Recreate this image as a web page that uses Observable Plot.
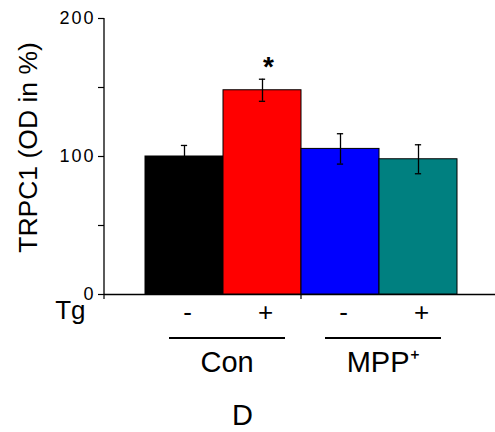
<!DOCTYPE html>
<html><head><meta charset="utf-8">
<script src="https://cdn.jsdelivr.net/npm/d3@7"></script>
<script src="https://cdn.jsdelivr.net/npm/@observablehq/plot@0.6"></script>
<style>
html,body{margin:0;padding:0;background:#fff}
svg{font-family:"Liberation Sans",Arial,sans-serif}
</style>
</head><body><div id="chart"></div>
<script>
// ---- data ----
const categories = ["Con -", "Con +", "MPP -", "MPP +"];
const tgLabels   = ["-", "+", "-", "+"];
const groupOf    = ["Con", "Con", "MPP⁺", "MPP⁺"];
const groups     = ["Con", "MPP⁺"];
const means      = [100, 148, 105.5, 98];
const errors     = [8, 8, 11, 10.5];
const colors     = ["#000000", "#ff0000", "#0000ff", "#008080"];
const yTicks     = [0, 50, 100, 150, 200];
const yTickLabels= ["0", "", "100", "", "200"];
const significant= ["Con +"];
const yTitle     = "TRPC1 (OD in %)";
const xTitle     = "Tg";
const panelLabel = "D";

const data = categories.map((c, i) => ({cat: c, tg: tgLabels[i], group: groupOf[i], mean: means[i], err: errors[i]}));
const groupData = groups.map(g => ({group: g, cats: categories.filter((c, i) => groupOf[i] === g)}));

const W = 495, H = 432;
const xRange = [143, 458];
const bw = (xRange[1] - xRange[0]) / categories.length;

// custom axis lines, group ticks and group underlines drawn through the plot's scales
function decorations(index, scales, values, dims) {
  const {x, y} = scales;
  const g = d3.create("svg:g").attr("stroke", "#000").attr("fill", "none");
  const y0 = y(yTicks[0]), yTop = y(yTicks[yTicks.length - 1]);
  // y axis line
  g.append("line").attr("x1", dims.marginLeft).attr("x2", dims.marginLeft)
    .attr("y1", yTop).attr("y2", y0).attr("stroke-width", 1.3);
  // x axis ticks: at frame start and between groups
  const tickXs = [dims.marginLeft, ...groupData.slice(1).map(d => x(d.cats[0]))];
  for (const tx of tickXs) {
    g.append("line").attr("x1", tx).attr("x2", tx).attr("y1", y0).attr("y2", y0 + 5).attr("stroke-width", 1.2);
  }
  // group underlines
  for (const d of groupData) {
    const cx = x(d.cats[1]) + 4;
    g.append("line").attr("x1", cx - 58).attr("x2", cx + 58)
      .attr("y1", y0 + 44).attr("y2", y0 + 44).attr("stroke-width", 2);
  }
  return g.node();
}

const plot = Plot.plot({
  width: W, height: H,
  marginLeft: 104, marginRight: 0, marginTop: 18, marginBottom: 138,
  style: {fontFamily: "'Liberation Sans', Arial, sans-serif", background: "#fff", overflow: "visible", color: "#000"},
  x: {domain: categories, range: xRange, padding: 0, label: null, axis: null},
  y: {domain: [0, 200], label: null, axis: null},
  color: {domain: categories, range: colors},
  marks: [
    Plot.ruleY([0], {stroke: "#000", strokeWidth: 1.3}),
    Plot.axisY({ticks: yTicks, tickFormat: d => yTickLabels[yTicks.indexOf(d)], tickSize: 6, tickPadding: 3,
      fontSize: 18, strokeWidth: 1.2, label: null}),
    Plot.axisX({tickSize: 0, tickPadding: 8.5, fontSize: 26, dx: 3, label: null,
      tickFormat: d => tgLabels[categories.indexOf(d)]}),
    Plot.barY(data, {x: "cat", y: "mean", fill: "cat", stroke: "#000", strokeWidth: 1}),
    Plot.ruleX(data, {x: "cat", y1: d => d.mean - d.err, y2: d => d.mean + d.err, stroke: "#000", strokeWidth: 1.3}),
    Plot.tickY(data, {x: "cat", y: d => d.mean + d.err, stroke: "#000", strokeWidth: 1.3, insetLeft: (bw - 7) / 2, insetRight: (bw - 7) / 2}),
    Plot.tickY(data, {x: "cat", y: d => d.mean - d.err, stroke: "#000", strokeWidth: 1.3, insetLeft: (bw - 7) / 2, insetRight: (bw - 7) / 2}),
    Plot.text(data.filter(d => significant.includes(d.cat)), {x: "cat", y: d => d.mean + d.err, text: () => "*",
      fontSize: 28, fontWeight: "bold", dx: 6, dy: -12}),
    decorations,
    Plot.text(groupData, {x: d => d.cats[1], y: () => 0, text: "group", fontSize: 29, dx: 4 - bw / 2, dy: 68.7}),
    Plot.text([xTitle], {frameAnchor: "left", y: () => 0, text: d => d, fontSize: 26, textAnchor: "end", dx: -19, dy: 15.7}),
    Plot.text([panelLabel], {frameAnchor: "bottom", text: d => d, fontSize: 29, textAnchor: "middle", lineAnchor: "middle", dx: -57.5, dy: 121.7}),
    Plot.text([yTitle], {frameAnchor: "left", text: d => d, fontSize: 26.5, rotate: -90, textAnchor: "middle", lineAnchor: "middle", dx: -75.5, dy: -9})
  ]
});
plot.querySelectorAll('g[aria-label="y-axis tick label"] text').forEach(t => t.style.letterSpacing = "2px");
document.getElementById("chart").append(plot);
</script>
</body></html>
